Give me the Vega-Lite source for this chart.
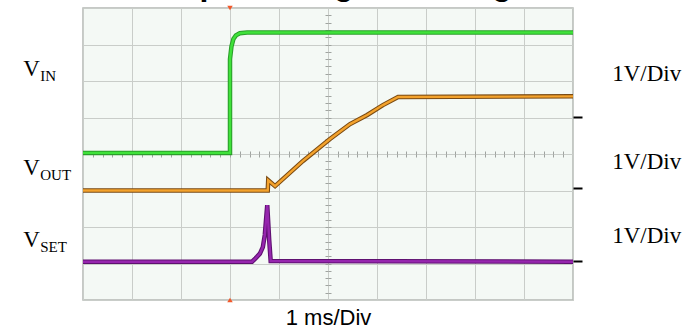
{
  "$schema": "https://vega.github.io/schema/vega-lite/v6.json",
  "width": 490,
  "height": 292,
  "autosize": {"type": "none"},
  "padding": {"left": 83, "top": 8, "right": 126, "bottom": 30},
  "background": "white",
  "config": {
    "view": {"fill": "#f4f9f5", "stroke": "#b4b8b4", "strokeWidth": 1.5},
    "axis": {"labels": false, "title": null, "domain": false, "grid": false, "ticks": false}
  },
  "title": {
    "text": "Output Voltage Tracking",
    "font": "Liberation Sans",
    "fontSize": 32,
    "fontWeight": "bold",
    "color": "black",
    "anchor": "middle",
    "frame": "group",
    "baseline": "alphabetic",
    "offset": 0,
    "dy": 21
  },
  "datasets": {
    "traces": [
      {"ch": "VIN", "i": 0, "t": 0, "v": 4.03},
      {"ch": "VIN", "i": 1, "t": 3.0, "v": 4.03},
      {"ch": "VIN", "i": 2, "t": 3.0, "v": 6.6},
      {"ch": "VIN", "i": 3, "t": 3.03, "v": 6.95},
      {"ch": "VIN", "i": 4, "t": 3.07, "v": 7.15},
      {"ch": "VIN", "i": 5, "t": 3.12, "v": 7.25},
      {"ch": "VIN", "i": 6, "t": 3.2, "v": 7.31},
      {"ch": "VIN", "i": 7, "t": 3.35, "v": 7.33},
      {"ch": "VIN", "i": 8, "t": 10, "v": 7.33},
      {"ch": "VOUT", "i": 0, "t": 0, "v": 3.0},
      {"ch": "VOUT", "i": 1, "t": 3.77, "v": 3.0},
      {"ch": "VOUT", "i": 2, "t": 3.78, "v": 3.28},
      {"ch": "VOUT", "i": 3, "t": 3.92, "v": 3.12},
      {"ch": "VOUT", "i": 4, "t": 4.49, "v": 3.81},
      {"ch": "VOUT", "i": 5, "t": 5.04, "v": 4.41},
      {"ch": "VOUT", "i": 6, "t": 5.45, "v": 4.82},
      {"ch": "VOUT", "i": 7, "t": 5.8, "v": 5.07},
      {"ch": "VOUT", "i": 8, "t": 6.12, "v": 5.34},
      {"ch": "VOUT", "i": 9, "t": 6.43, "v": 5.56},
      {"ch": "VOUT", "i": 10, "t": 10, "v": 5.58},
      {"ch": "VSET", "i": 0, "t": 0, "v": 1.05},
      {"ch": "VSET", "i": 1, "t": 3.45, "v": 1.05},
      {"ch": "VSET", "i": 2, "t": 3.52, "v": 1.14},
      {"ch": "VSET", "i": 3, "t": 3.61, "v": 1.27},
      {"ch": "VSET", "i": 4, "t": 3.67, "v": 1.45},
      {"ch": "VSET", "i": 5, "t": 3.71, "v": 1.78},
      {"ch": "VSET", "i": 6, "t": 3.76, "v": 2.6},
      {"ch": "VSET", "i": 7, "t": 3.8, "v": 1.64},
      {"ch": "VSET", "i": 8, "t": 3.83, "v": 1.07},
      {"ch": "VSET", "i": 9, "t": 10, "v": 1.05}
    ],
    "leftLabels": [
      {"main": "V", "sub": "IN", "t": -1.22, "v": 6.14},
      {"main": "V", "sub": "OUT", "t": -1.22, "v": 3.43},
      {"main": "V", "sub": "SET", "t": -1.22, "v": 1.45}
    ],
    "rightLabels": [
      {"lab": "1V/Div", "t": 10.8, "v": 6.0},
      {"lab": "1V/Div", "t": 10.8, "v": 3.59},
      {"lab": "1V/Div", "t": 10.8, "v": 1.56}
    ]
  },
  "layer": [
    {
      "data": {"name": "traces"},
      "mark": {"type": "line", "strokeWidth": 4.5, "interpolate": "linear"},
      "encoding": {
        "x": {"field": "t", "type": "quantitative", "scale": {"domain": [0, 10], "nice": false, "zero": false},
          "axis": {"orient": "bottom", "grid": true, "values": [0,1,2,3,4,5,6,7,8,9,10], "gridColor": "#c9cdc9", "gridWidth": 1,
            "title": "1 ms/Div", "titleFont": "Liberation Sans", "titleFontSize": 22, "titleFontWeight": "normal", "titleColor": "black", "titleBaseline": "alphabetic", "titleY": 24}},
        "y": {"field": "v", "type": "quantitative", "scale": {"domain": [0, 8], "nice": false, "zero": false},
          "axis": {"orient": "left", "grid": true, "values": [0,1,2,3,4,5,6,7,8], "gridColor": "#c9cdc9", "gridWidth": 1}},
        "color": {"field": "ch", "type": "nominal", "scale": {"domain": ["VIN", "VOUT", "VSET"], "range": ["#2a9e2a", "#7a4a12", "#5e1070"]}, "legend": null},
        "order": {"field": "i", "type": "quantitative"}
      }
    },
    {
      "data": {"name": "traces"},
      "mark": {"type": "line", "strokeWidth": 2.4},
      "encoding": {
        "x": {"field": "t", "type": "quantitative",
          "axis": {"orient": "top", "offset": -146, "ticks": true, "tickSize": 3, "tickColor": "#a0a4a0", "tickWidth": 1,
            "values": [0.2,0.4,0.6,0.8,1,1.2,1.4,1.6,1.8,2,2.2,2.4,2.6,2.8,3,3.2,3.4,3.6,3.8,4,4.2,4.4,4.6,4.8,5,5.2,5.4,5.6,5.8,6,6.2,6.4,6.6,6.8,7,7.2,7.4,7.6,7.8,8,8.2,8.4,8.6,8.8,9,9.2,9.4,9.6,9.8]}},
        "y": {"field": "v", "type": "quantitative",
          "axis": {"orient": "left", "offset": -245, "ticks": true, "tickSize": 3, "tickColor": "#a0a4a0", "tickWidth": 1,
            "values": [0.2,0.4,0.6,0.8,1,1.2,1.4,1.6,1.8,2,2.2,2.4,2.6,2.8,3,3.2,3.4,3.6,3.8,4.2,4.4,4.6,4.8,5,5.2,5.4,5.6,5.8,6,6.2,6.4,6.6,6.8,7,7.2,7.4,7.6,7.8]}},
        "color": {"field": "ch", "type": "nominal", "scale": {"domain": ["VIN", "VOUT", "VSET"], "range": ["#3fe23a", "#f3a22c", "#9626ae"]}, "legend": null},
        "order": {"field": "i", "type": "quantitative"}
      }
    },
    {
      "data": {"values": [{"t": 3, "v": 8}]},
      "mark": {"type": "point", "shape": "triangle-down", "filled": true, "size": 30, "color": "#f2582a", "opacity": 1},
      "encoding": {
        "x": {"field": "t", "type": "quantitative",
          "axis": {"orient": "bottom", "offset": -146, "ticks": true, "tickSize": 3, "tickColor": "#a0a4a0", "tickWidth": 1,
            "values": [0.2,0.4,0.6,0.8,1,1.2,1.4,1.6,1.8,2,2.2,2.4,2.6,2.8,3,3.2,3.4,3.6,3.8,4,4.2,4.4,4.6,4.8,5,5.2,5.4,5.6,5.8,6,6.2,6.4,6.6,6.8,7,7.2,7.4,7.6,7.8,8,8.2,8.4,8.6,8.8,9,9.2,9.4,9.6,9.8]}},
        "y": {"field": "v", "type": "quantitative",
          "axis": {"orient": "right", "offset": -245, "ticks": true, "tickSize": 3, "tickColor": "#a0a4a0", "tickWidth": 1,
            "values": [0.2,0.4,0.6,0.8,1,1.2,1.4,1.6,1.8,2,2.2,2.4,2.6,2.8,3,3.2,3.4,3.6,3.8,4.2,4.4,4.6,4.8,5,5.2,5.4,5.6,5.8,6,6.2,6.4,6.6,6.8,7,7.2,7.4,7.6,7.8]}}
      }
    },
    {
      "data": {"values": [{"t": 3, "v": 0}]},
      "mark": {"type": "point", "shape": "triangle-up", "filled": true, "size": 30, "color": "#f2582a", "opacity": 1},
      "encoding": {
        "x": {"field": "t", "type": "quantitative", "axis": null},
        "y": {"field": "v", "type": "quantitative",
          "axis": {"orient": "right", "offset": 0, "ticks": true, "tickSize": 9, "tickWidth": 2, "tickColor": "black", "values": [1.07, 3.06, 5.02]}}
      }
    },
    {
      "data": {"name": "leftLabels"},
      "mark": {"type": "text", "font": "Liberation Serif", "fontSize": 23, "align": "left", "baseline": "alphabetic", "color": "black"},
      "encoding": {
        "x": {"field": "t", "type": "quantitative", "axis": null},
        "y": {"field": "v", "type": "quantitative", "axis": null},
        "text": {"field": "main"}
      }
    },
    {
      "data": {"name": "leftLabels"},
      "mark": {"type": "text", "font": "Liberation Serif", "fontSize": 15, "align": "left", "baseline": "alphabetic", "color": "black", "dx": 17, "dy": 5},
      "encoding": {
        "x": {"field": "t", "type": "quantitative", "axis": null},
        "y": {"field": "v", "type": "quantitative", "axis": null},
        "text": {"field": "sub"}
      }
    },
    {
      "data": {"name": "rightLabels"},
      "mark": {"type": "text", "font": "Liberation Serif", "fontSize": 23, "align": "left", "baseline": "alphabetic", "color": "black"},
      "encoding": {
        "x": {"field": "t", "type": "quantitative", "axis": null},
        "y": {"field": "v", "type": "quantitative", "axis": null},
        "text": {"field": "lab"}
      }
    }
  ],
  "resolve": {"scale": {"color": "independent"}, "axis": {"x": "independent", "y": "independent"}}
}
